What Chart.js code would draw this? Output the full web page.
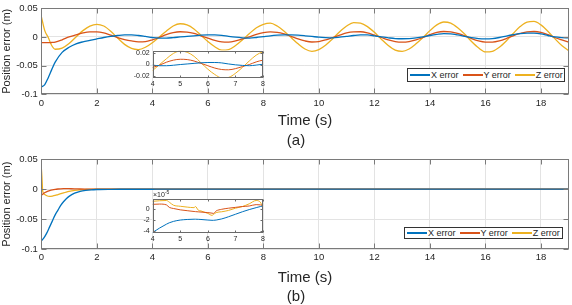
<!DOCTYPE html>
<html><head><meta charset="utf-8">
<script src="https://cdn.jsdelivr.net/npm/chart.js@4.4.1/dist/chart.umd.min.js"></script>
<style>
html,body{margin:0;padding:0;background:#fff;}
body{width:572px;height:305px;position:relative;overflow:hidden;font-family:"Liberation Sans",Arial,sans-serif;}
canvas{position:absolute;}
.lbl{position:absolute;color:#262626;text-align:center;white-space:nowrap;}
.legend{position:absolute;background:#fff;border:1px solid #333;box-sizing:border-box;display:flex;flex-wrap:nowrap;align-items:center;font-size:9px;line-height:10px;color:#262626;padding-left:2px;white-space:nowrap;overflow:hidden;}
.legend .it{display:flex;align-items:center;margin-right:4px;flex:0 0 auto;white-space:nowrap;}
.legend .sw{display:inline-block;width:20px;height:1.6px;margin-right:1px;flex:0 0 auto;}
</style>
</head><body>
<canvas id="cA" width="572" height="150" style="left:0;top:0"></canvas>
<canvas id="cB" width="572" height="155" style="left:0;top:150px"></canvas>
<canvas id="iA" width="150" height="48" style="left:118px;top:44px"></canvas>
<canvas id="iB" width="150" height="56" style="left:118px;top:190px"></canvas>
<div class="lbl" style="left:276px;top:130.5px;width:40px;font-size:15px;line-height:17px">(a)</div>
<div class="lbl" style="left:276px;top:287px;width:40px;font-size:15px;line-height:17px">(b)</div>
<div class="lbl" style="left:153px;top:190px;font-size:7px;line-height:8px;text-align:left">×10<sup style="font-size:5px;vertical-align:3px;line-height:5px">-5</sup></div>
<div id="legA" class="legend" style="left:407px;top:68px;width:158px;height:14px"></div>
<div id="legB" class="legend" style="left:404px;top:226.5px;width:159px;height:12.5px"></div>
<script>
const SERIES_NAMES = ['X error','Y error','Z error'];
const COLORS = ['#0072BD','#D95319','#EDB120'];

// (a) time samples (s)
const T_A = [0,0.125,0.25,0.375,0.5,0.75,1,1.25,1.5,1.75,2,2.25,2.5,2.75,3,3.25,3.5,3.75,4,4.25,4.5,4.75,5,5.25,5.5,5.75,6,6.25,6.5,6.75,7,7.25,7.5,7.75,8,8.25,8.5,8.75,9,9.25,9.5,9.75,10,10.25,10.5,10.75,11,11.25,11.5,11.75,12,12.25,12.5,12.75,13,13.25,13.5,13.75,14,14.25,14.5,14.75,15,15.25,15.5,15.75,16,16.25,16.5,16.75,17,17.25,17.5,17.75,18,18.25,18.5,18.75,19];
const X_A = [-0.0875,-0.083,-0.071,-0.057,-0.044,-0.027,-0.018,-0.012,-0.0085,-0.006,-0.0035,-0.001,0.001,0.0025,0.0035,0.0035,0.0025,0.0008,-0.001,-0.002,-0.002,-0.0012,0.000,0.001,0.002,0.003,0.0035,0.0035,0.0028,0.001,-0.0005,-0.0015,-0.002,-0.001,0.0005,0.002,0.003,0.0035,0.0035,0.003,0.002,0.0008,-0.0005,-0.0012,-0.0015,-0.0005,0.001,0.0025,0.0035,0.0035,0.002,0.000,-0.0015,-0.0028,-0.0032,-0.003,-0.0018,0.000,0.0025,0.0045,0.0058,0.0055,0.0035,0.001,-0.0012,-0.0028,-0.0033,-0.0028,-0.001,0.0015,0.0038,0.0058,0.0066,0.0065,0.0052,0.0025,0.000,-0.0012,-0.0018];
const Y_A = [-0.010,-0.010,-0.010,-0.0097,-0.009,-0.005,0.000,0.0035,0.007,0.0088,0.0088,0.007,0.003,-0.001,-0.0045,-0.007,-0.0085,-0.008,-0.005,-0.001,0.004,0.0075,0.009,0.0085,0.006,0.002,-0.002,-0.006,-0.0085,-0.009,-0.007,-0.0035,0.000,0.0045,0.0075,0.0088,0.008,0.0052,0.001,-0.0035,-0.007,-0.0088,-0.008,-0.005,-0.001,0.003,0.007,0.0088,0.009,0.007,0.003,-0.001,-0.005,-0.008,-0.009,-0.008,-0.005,-0.001,0.004,0.008,0.0095,0.009,0.006,0.002,-0.003,-0.007,-0.009,-0.009,-0.007,-0.003,0.002,0.006,0.009,0.0095,0.008,0.004,-0.001,-0.005,-0.009];
const Z_A = [0.036,0.011,-0.001,-0.015,-0.0215,-0.0195,-0.0115,0.000,0.011,0.019,0.022,0.019,0.010,-0.002,-0.013,-0.020,-0.022,-0.018,-0.010,0.000,0.010,0.019,0.023,0.021,0.014,0.003,-0.008,-0.017,-0.023,-0.022,-0.015,-0.005,0.006,0.016,0.022,0.024,0.019,0.010,-0.001,-0.012,-0.021,-0.025,-0.022,-0.014,-0.003,0.009,0.019,0.025,0.024,0.018,0.008,-0.004,-0.015,-0.023,-0.025,-0.021,-0.012,-0.001,0.011,0.021,0.026,0.024,0.016,0.005,-0.008,-0.019,-0.026,-0.025,-0.018,-0.007,0.006,0.018,0.026,0.027,0.021,0.010,-0.003,-0.015,-0.024];

// (b) time samples (s)
const T_B = [0,0.02,0.05,0.1,0.2,0.3,0.4,0.5,0.6,0.7,0.8,0.9,1.0,1.2,1.4,1.6,1.8,2.0,2.5,3.0,3.5,4.0,4.25,4.5,4.6,4.75,5.0,5.25,5.5,5.55,5.65,5.75,6.0,6.15,6.2,6.3,6.5,6.75,7.0,7.25,7.5,7.75,7.9,8.0,9,10,11,12,13,14,15,16,17,18,19];
const X_B = [-0.086,-0.0855,-0.084,-0.081,-0.073,-0.063,-0.053,-0.043,-0.035,-0.027,-0.021,-0.016,-0.012,-0.0067,-0.0037,-0.002,-0.001,-0.0005,-1.5e-4,-8e-5,-5.5e-5,-4.2e-5,-3.4e-5,-2.7e-5,-2.45e-5,-2.2e-5,-1.95e-5,-1.85e-5,-1.8e-5,-1.8e-5,-1.82e-5,-1.85e-5,-1.95e-5,-2.0e-5,-2.0e-5,-1.95e-5,-1.75e-5,-1.35e-5,-0.9e-5,-0.45e-5,-0.05e-5,0.3e-5,0.5e-5,0.6e-5,1e-5,0.5e-5,-0.5e-5,-1e-5,0,1e-5,0.5e-5,-0.5e-5,0,0.8e-5,0];
const Y_B = [-0.010,-0.0095,-0.0085,-0.0065,-0.0042,-0.0025,-0.0012,-0.0003,0.0003,0.0007,0.0009,0.0009,0.0008,0.0006,0.0003,0.00015,0.00007,0.00003,1.5e-5,1.2e-5,1.0e-5,0.9e-5,0.95e-5,0.8e-5,0.35e-5,0.15e-5,-0.1e-5,-0.25e-5,-0.4e-5,-0.42e-5,-0.46e-5,-0.5e-5,-0.6e-5,-0.7e-5,-0.75e-5,-0.3e-5,0,0.2e-5,0.35e-5,0.5e-5,0.6e-5,0.85e-5,0.8e-5,0.7e-5,0,-0.8e-5,0.5e-5,0.8e-5,-0.5e-5,-0.8e-5,0.6e-5,0.8e-5,-0.5e-5,-0.8e-5,0.5e-5];
const Z_B = [0.036,0.022,-0.003,-0.008,-0.011,-0.012,-0.0115,-0.0105,-0.009,-0.0075,-0.006,-0.0047,-0.0036,-0.002,-0.001,-0.0005,-0.0002,-0.0001,-2e-5,1e-5,1.3e-5,1.45e-5,1.55e-5,1.6e-5,1.3e-5,0.75e-5,0.55e-5,0.4e-5,0.3e-5,0.5e-5,-0.15e-5,-0.3e-5,-0.75e-5,-1.1e-5,-0.95e-5,-0.6e-5,-0.45e-5,-0.2e-5,0.2e-5,0.5e-5,1.0e-5,1.6e-5,1.3e-5,0.4e-5,-1e-5,1e-5,-1e-5,1e-5,-1e-5,1e-5,-1e-5,1e-5,-1e-5,1e-5,0];

// tick values
const X_TICKS_MAIN = [0,2,4,6,8,10,12,14,16,18];
const Y_TICKS_MAIN = [-0.1,-0.05,0,0.05];
const X_TICKS_INSET = [4,5,6,7,8];
const Y_TICKS_INSET_A = [-0.02,0,0.02];
const Y_TICKS_INSET_B = [-4e-5,-2e-5,0];

const F = '"Liberation Sans", Arial, sans-serif';
const TXT = '#262626';

const framePlugin = {
  id: 'frame',
  beforeDraw(chart, args, opts) {
    if (!opts.bg) return;
    const a = chart.chartArea, ctx = chart.ctx;
    ctx.save(); ctx.fillStyle = '#fff';
    ctx.fillRect(a.left, a.top, a.right - a.left, a.bottom - a.top);
    ctx.restore();
  },
  afterDraw(chart, args, opts) {
    const {ctx, chartArea: a, scales} = chart;
    ctx.save();
    ctx.strokeStyle = opts.color || '#7a7a7a';
    ctx.lineWidth = 1;
    const L = Math.round(a.left) + 0.5, R = Math.round(a.right) - 0.5;
    const T = Math.round(a.top) + 0.5, B = Math.round(a.bottom) - 0.5;
    ctx.beginPath();
    const len = opts.tick || 5;
    scales.x.ticks.forEach(tk => {
      const px = Math.round(scales.x.getPixelForValue(tk.value)) + 0.5;
      ctx.moveTo(px, B); ctx.lineTo(px, B - len);
      ctx.moveTo(px, T); ctx.lineTo(px, T + len);
    });
    scales.y.ticks.forEach(tk => {
      const py = Math.round(scales.y.getPixelForValue(tk.value)) + 0.5;
      ctx.moveTo(L, py); ctx.lineTo(L + len, py);
      ctx.moveTo(R, py); ctx.lineTo(R - len, py);
    });
    ctx.stroke();
    ctx.strokeRect(L, T, R - L, B - T);
    ctx.restore();
  }
};

function pts(t, v) { return t.map((tt, i) => ({x: tt, y: v[i]})); }
function fmt(v) { const r = +v.toFixed(5); return String(r === 0 ? 0 : r); }

function datasets(t, xs, ys, zs, width) {
  return [xs, ys, zs].map((arr, k) => ({
    label: SERIES_NAMES[k], data: pts(t, arr), borderColor: COLORS[k],
    borderWidth: width, pointRadius: 0, cubicInterpolationMode: 'monotone', fill: false
  }));
}

function mainChart(id, t, xs, ys, zs, padTop, xAxisH, titlePadB) {
  return new Chart(document.getElementById(id), {
    type: 'line',
    data: { datasets: datasets(t, xs, ys, zs, 1.3) },
    plugins: [framePlugin],
    options: {
      responsive: false, animation: false, devicePixelRatio: 1,
      layout: { padding: { top: padTop, right: 3.3, left: 0, bottom: 0 } },
      plugins: { legend: { display: false }, tooltip: { enabled: false }, frame: { color: '#7a7a7a', tick: 5 } },
      scales: {
        x: {
          type: 'linear', min: 0, max: 19,
          afterBuildTicks: s => { s.ticks = X_TICKS_MAIN.map(v => ({value: v})); },
          afterFit: s => { s.height = xAxisH; },
          ticks: { color: TXT, font: { family: F, size: 9.5, lineHeight: 1 }, padding: 4, maxRotation: 0, autoSkip: false, callback: v => String(v) },
          grid: { color: '#e3e3e3', drawTicks: false },
          border: { display: false },
          title: { display: true, text: 'Time (s)', color: TXT, font: { family: F, size: 15, lineHeight: 1.2 }, padding: { top: 0, bottom: titlePadB } }
        },
        y: {
          type: 'linear', min: -0.1, max: 0.05,
          afterBuildTicks: s => { s.ticks = Y_TICKS_MAIN.map(v => ({value: v})); },
          afterFit: s => { s.width = 41.3; },
          ticks: { color: TXT, font: { family: F, size: 9.5, lineHeight: 1 }, padding: 3.5, callback: v => fmt(v) },
          grid: { color: '#e3e3e3', drawTicks: false },
          border: { display: false },
          title: { display: true, text: 'Position error (m)', color: TXT, font: { family: F, size: 11, lineHeight: 1.2 }, padding: 0.5 }
        }
      }
    }
  });
}

function insetChart(id, t, xs, ys, zs, yMin, yMax, yTicks, yFmt, padTop, xAxisH) {
  return new Chart(document.getElementById(id), {
    type: 'line',
    data: { datasets: datasets(t, xs, ys, zs, 1.0) },
    plugins: [framePlugin],
    options: {
      responsive: false, animation: false, devicePixelRatio: 1,
      layout: { padding: { top: padTop, right: 3.7, left: 0, bottom: 0 } },
      plugins: { legend: { display: false }, tooltip: { enabled: false }, frame: { bg: true, color: '#6a6a6a', tick: 2 } },
      scales: {
        x: {
          type: 'linear', min: 4, max: 8,
          afterBuildTicks: s => { s.ticks = X_TICKS_INSET.map(v => ({value: v})); },
          afterFit: s => { s.height = xAxisH; },
          ticks: { color: TXT, font: { family: F, size: 7, lineHeight: 1 }, padding: 3, maxRotation: 0, autoSkip: false, callback: v => String(v) },
          grid: { display: false, drawTicks: false },
          border: { display: false }
        },
        y: {
          type: 'linear', min: yMin, max: yMax,
          afterBuildTicks: s => { s.ticks = yTicks.map(v => ({value: v})); },
          afterFit: s => { s.width = 34.7; },
          ticks: { color: TXT, font: { family: F, size: 7, lineHeight: 1 }, padding: 3, callback: yFmt },
          grid: { display: false, drawTicks: false },
          border: { display: false }
        }
      }
    }
  });
}

mainChart('cA', T_A, X_A, Y_A, Z_A, 5, 55.7, 20.5);
mainChart('cB', T_B, X_B, Y_B, Z_B, 9.3, 56, 18);
insetChart('iA', T_A, X_A, Y_A, Z_A, -0.0225, 0.024, Y_TICKS_INSET_A, v => fmt(v), 5.3, 14.3);
insetChart('iB', T_B, X_B, Y_B, Z_B, -4.25e-5, 1.87e-5, Y_TICKS_INSET_B, v => String(Math.round(v / 1e-5)), 9, 13.3);

function buildLegend(id) {
  const el = document.getElementById(id);
  SERIES_NAMES.forEach((n, k) => {
    const it = document.createElement('span'); it.className = 'it';
    const sw = document.createElement('span'); sw.className = 'sw'; sw.style.background = COLORS[k];
    const tx = document.createElement('span'); tx.textContent = n;
    it.appendChild(sw); it.appendChild(tx); el.appendChild(it);
  });
}
buildLegend('legA'); buildLegend('legB');
</script>
</body></html>
